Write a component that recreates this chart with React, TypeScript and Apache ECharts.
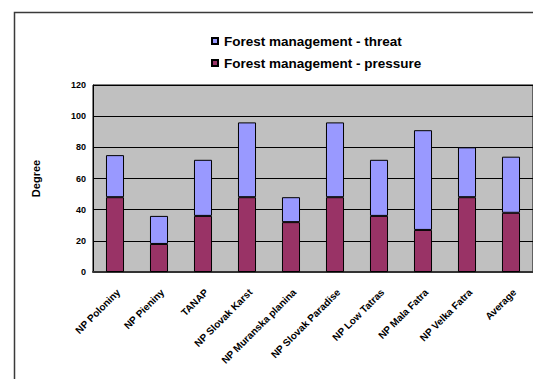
import React, { useEffect, useRef } from "react";
import * as echarts from "echarts";

const categories = [
  "NP Poloniny",
  "NP Pieniny",
  "TANAP",
  "NP Slovak Karst",
  "NP Muranska planina",
  "NP Slovak Paradise",
  "NP Low Tatras",
  "NP Mala Fatra",
  "NP Velka Fatra",
  "Average",
];

// lower segment
const pressure = [48, 18, 36, 48, 32, 48, 36, 27, 48, 38];
// upper segment, stacked on pressure
const threat = [27, 18, 36, 48, 16, 48, 36, 64, 32, 36];

const threatName = "Forest management - threat";
const pressureName = "Forest management - pressure";

export default function App() {
  const ref = useRef<HTMLDivElement>(null);

  useEffect(() => {
    if (!ref.current) return;
    const chart = echarts.init(ref.current, null, { renderer: "svg" });
    const font = "Arial, 'Liberation Sans', sans-serif";
    chart.setOption({
      animation: false,
      backgroundColor: "#ffffff",
      textStyle: { fontFamily: font },
      graphic: [
        {
          type: "rect",
          left: 12,
          top: 10,
          shape: { width: 600, height: 420 },
          style: { fill: "none", stroke: "#3a3a3a", lineWidth: 1.5 },
          silent: true,
          z: 100,
        },
      ],
      legend: {
        orient: "vertical",
        left: 211,
        top: 34,
        padding: 0,
        itemWidth: 6,
        itemHeight: 6,
        itemGap: 8,
        icon: "rect",
        data: [threatName, pressureName],
        textStyle: {
          fontFamily: font,
          fontWeight: "bold",
          fontSize: 13.5,
          lineHeight: 14,
          color: "#000",
          padding: [0, 0, 0, 1],
        },
      },
      grid: {
        left: 93,
        top: 85,
        right: 0,
        bottom: 107,
        show: true,
        backgroundColor: "#c0c0c0",
        borderColor: "#000",
        borderWidth: 1,
      },
      xAxis: {
        type: "category",
        data: categories,
        axisLine: { lineStyle: { color: "#333", width: 2 } },
        axisTick: { show: false },
        axisLabel: {
          interval: 0,
          rotate: 45,
          verticalAlign: "top",
          fontFamily: font,
          fontWeight: "bold",
          fontSize: 10,
          color: "#000",
          margin: 15,
        },
      },
      yAxis: {
        type: "value",
        min: 0,
        max: 120,
        interval: 20,
        name: "Degree",
        nameLocation: "middle",
        nameGap: 52,
        nameRotate: 90,
        nameTextStyle: {
          fontFamily: font,
          fontWeight: "bold",
          fontSize: 11,
          color: "#000",
        },
        axisLine: { show: true, lineStyle: { color: "#000", width: 1 } },
        axisTick: { show: false },
        axisLabel: {
          fontFamily: font,
          fontWeight: "bold",
          fontSize: 9,
          color: "#000",
          margin: 7,
        },
        splitLine: { lineStyle: { color: "#000", width: 1 } },
      },
      series: [
        {
          name: pressureName,
          type: "bar",
          stack: "fm",
          data: pressure,
          barWidth: "41%",
          itemStyle: { color: "#993366", borderColor: "#000", borderWidth: 1 },
        },
        {
          name: threatName,
          type: "bar",
          stack: "fm",
          data: threat,
          barWidth: "41%",
          itemStyle: { color: "#9999ff", borderColor: "#000", borderWidth: 1 },
        },
      ],
    });
    return () => chart.dispose();
  }, []);

  return (
    <div
      ref={ref}
      style={{ position: "absolute", left: 0, top: 0, width: 533, height: 379 }}
    />
  );
}
